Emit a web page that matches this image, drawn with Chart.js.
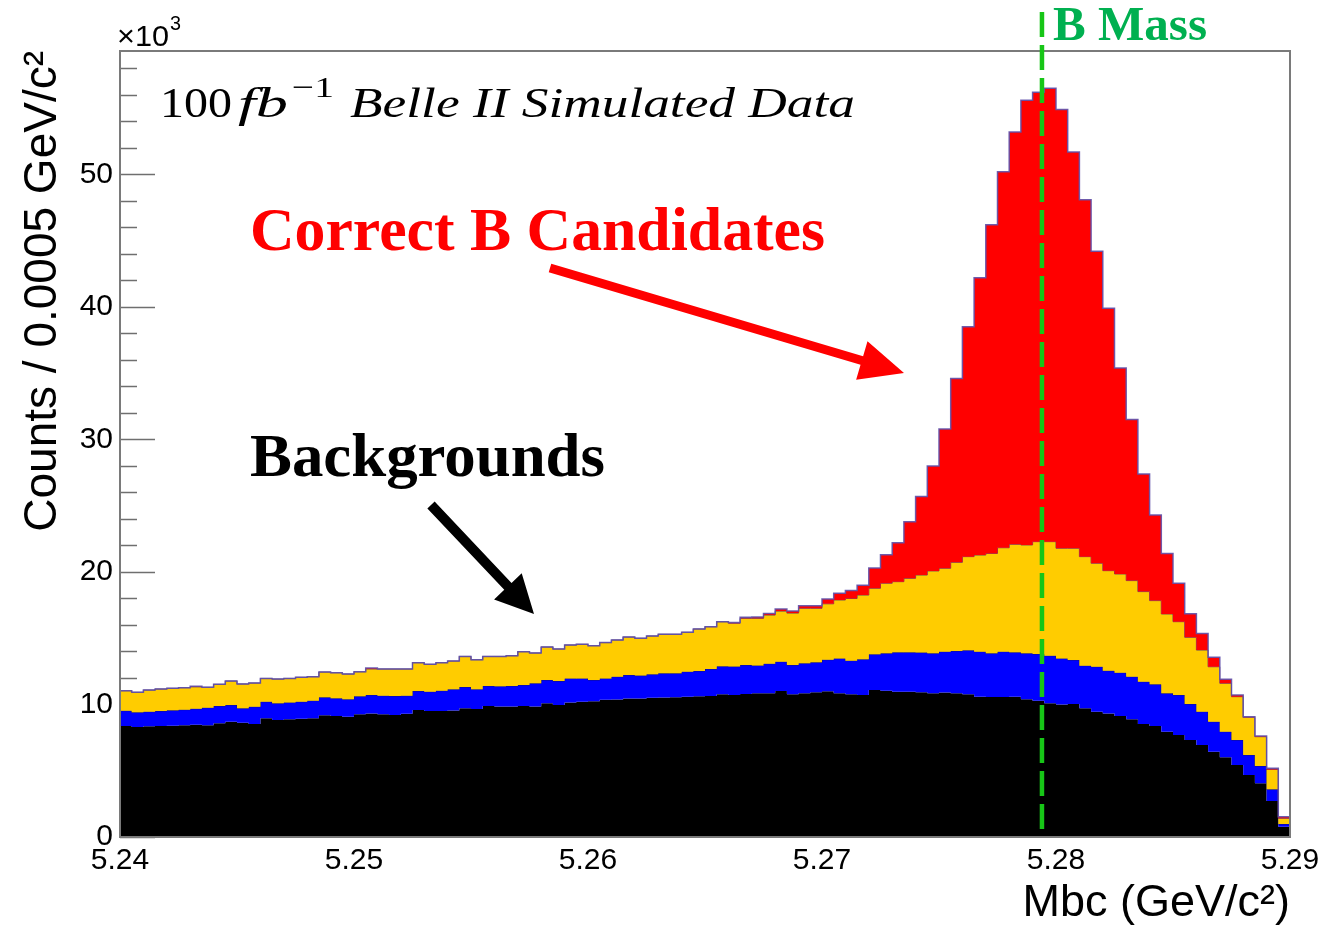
<!DOCTYPE html>
<html>
<head>
<meta charset="utf-8">
<title>Mbc stack</title>
<script src="https://cdn.jsdelivr.net/npm/chart.js@4.4.1/dist/chart.umd.min.js"></script>
<style>
  html, body { margin: 0; padding: 0; background: #fff; }
  #wrap { width: 1337px; height: 931px; }
</style>
</head>
<body>
<div id="wrap"><canvas id="graphique" width="1337" height="931"></canvas></div>
<script>
// === binning: 100 bins of 0.0005 GeV between 5.24 and 5.29 ===
const BIN_LOW = 5.24;
const BIN_WIDTH = 0.0005;
const N_BINS = 100;
const binEdges = [];
for (let i = 0; i <= N_BINS; i++) binEdges.push(+(BIN_LOW + i * BIN_WIDTH).toFixed(4));

// === stack heights (x10^3 counts), bottom layer first ===
const topBlack = [
  8.38, 8.30, 8.35, 8.38, 8.40, 8.43, 8.48, 8.43, 8.58, 8.70,
  8.63, 8.53, 8.96, 8.83, 8.88, 8.93, 8.96, 9.18, 9.13, 9.08,
  9.26, 9.33, 9.26, 9.21, 9.30, 9.58, 9.51, 9.51, 9.55, 9.71,
  9.66, 9.89, 9.84, 9.84, 9.89, 9.84, 10.09, 9.96, 10.16, 10.21,
  10.25, 10.35, 10.38, 10.45, 10.45, 10.50, 10.52, 10.55, 10.59, 10.62,
  10.65, 10.77, 10.72, 10.80, 10.84, 10.84, 11.02, 10.77, 10.84, 10.92,
  11.00, 10.84, 10.77, 10.72, 11.09, 11.04, 10.97, 10.97, 10.92, 10.84,
  10.90, 10.84, 10.77, 10.59, 10.57, 10.57, 10.59, 10.39, 10.29, 10.09,
  10.00, 10.04, 9.71, 9.46, 9.33, 9.13, 8.88, 8.53, 8.38, 7.95,
  7.70, 7.32, 6.94, 6.44, 6.02, 5.43, 4.68, 4.05, 2.72, 0.78
];
const topBlue = [
  9.53, 9.41, 9.46, 9.51, 9.56, 9.61, 9.68, 9.76, 9.89, 9.96,
  9.71, 9.83, 10.21, 10.09, 10.16, 10.21, 10.29, 10.54, 10.47, 10.39,
  10.62, 10.72, 10.66, 10.64, 10.66, 11.02, 10.97, 11.04, 11.15, 11.32,
  11.15, 11.40, 11.38, 11.40, 11.47, 11.60, 11.85, 11.77, 11.97, 11.97,
  11.85, 11.97, 12.10, 12.23, 12.18, 12.28, 12.35, 12.35, 12.48, 12.53,
  12.68, 12.88, 12.86, 12.98, 12.95, 13.08, 13.23, 12.98, 13.11, 13.18,
  13.38, 13.48, 13.31, 13.41, 13.79, 13.86, 13.94, 13.94, 13.92, 13.86,
  13.99, 14.04, 14.09, 13.99, 13.86, 13.99, 13.94, 13.86, 13.81, 13.68,
  13.48, 13.36, 12.93, 12.85, 12.55, 12.40, 12.10, 11.72, 11.52, 10.84,
  10.72, 10.04, 9.46, 8.70, 7.95, 7.32, 6.19, 5.36, 3.60, 0.98
];
const topYellow = [
  11.04, 10.92, 11.09, 11.17, 11.22, 11.27, 11.33, 11.30, 11.52, 11.77,
  11.55, 11.62, 11.97, 11.92, 11.97, 12.05, 12.10, 12.45, 12.40, 12.30,
  12.47, 12.68, 12.68, 12.68, 12.68, 13.16, 13.03, 13.16, 13.28, 13.63,
  13.38, 13.63, 13.63, 13.68, 13.99, 13.89, 14.34, 14.19, 14.49, 14.54,
  14.44, 14.67, 14.87, 15.09, 15.00, 15.17, 15.30, 15.30, 15.45, 15.70,
  15.87, 16.25, 16.13, 16.50, 16.50, 16.75, 17.05, 16.90, 17.26, 17.26,
  17.60, 17.89, 18.00, 18.26, 18.77, 19.15, 19.27, 19.52, 19.77, 20.08,
  20.28, 20.73, 21.16, 21.28, 21.40, 21.83, 22.09, 22.04, 22.29, 22.29,
  21.79, 21.79, 21.16, 20.66, 20.10, 19.85, 19.35, 18.52, 17.84, 16.83,
  16.25, 15.07, 14.11, 12.85, 11.60, 10.59, 9.03, 7.57, 5.10, 1.41
];
const topRed = [
  11.04, 10.92, 11.09, 11.17, 11.22, 11.27, 11.38, 11.30, 11.52, 11.77,
  11.55, 11.62, 11.97, 11.92, 11.97, 12.05, 12.10, 12.45, 12.40, 12.30,
  12.47, 12.76, 12.68, 12.68, 12.68, 13.16, 13.03, 13.16, 13.28, 13.63,
  13.38, 13.63, 13.63, 13.68, 13.99, 13.89, 14.34, 14.19, 14.49, 14.54,
  14.44, 14.67, 14.87, 15.09, 15.00, 15.17, 15.30, 15.30, 15.45, 15.70,
  15.87, 16.25, 16.18, 16.58, 16.60, 16.87, 17.20, 17.05, 17.46, 17.46,
  17.96, 18.40, 18.60, 19.00, 20.30, 21.30, 22.20, 23.80, 25.70, 28.00,
  30.80, 34.60, 38.50, 42.20, 46.20, 50.20, 53.20, 55.60, 56.20, 56.50,
  54.90, 51.70, 48.10, 44.20, 39.90, 35.40, 31.50, 27.40, 24.30, 21.40,
  19.15, 16.85, 15.35, 13.56, 11.90, 10.72, 9.08, 7.62, 5.18, 1.53
];

const xTicks = [5.24, 5.25, 5.26, 5.27, 5.28, 5.29];
const yTicks = [0, 10, 20, 30, 40, 50];
const Y_MAX = 59.32;
const B_MASS = 5.2794;

const SANS = "'Liberation Sans', Arial, Helvetica, sans-serif";
const SERIF = "'Liberation Serif', 'Times New Roman', serif";

// histogram -> step points (last edge repeats the last bin)
function toSteps(tops) {
  const pts = tops.map((v, i) => ({ x: binEdges[i], y: v }));
  pts.push({ x: binEdges[N_BINS], y: tops[N_BINS - 1] });
  return pts;
}

// === décor: cadre, ticks internes, ligne B, flèches, textes ===
function arrow(ctx, x0, y0, x1, y1, shaft, headL, headW, color) {
  const a = Math.atan2(y1 - y0, x1 - x0);
  const len = Math.hypot(x1 - x0, y1 - y0);
  ctx.save();
  ctx.translate(x0, y0);
  ctx.rotate(a);
  ctx.fillStyle = color;
  ctx.beginPath();
  ctx.moveTo(0, -shaft / 2);
  ctx.lineTo(len - headL, -shaft / 2);
  ctx.lineTo(len - headL, -headW / 2);
  ctx.lineTo(len, 0);
  ctx.lineTo(len - headL, headW / 2);
  ctx.lineTo(len - headL, shaft / 2);
  ctx.lineTo(0, shaft / 2);
  ctx.closePath();
  ctx.fill();
  ctx.restore();
}

function fitText(ctx, text, x, y, width, font, color) {
  ctx.save();
  ctx.font = font;
  ctx.fillStyle = color;
  ctx.textBaseline = 'alphabetic';
  const w = ctx.measureText(text).width;
  ctx.translate(x, y);
  ctx.scale(width / w, 1);
  ctx.fillText(text, 0, 0);
  ctx.restore();
}

const decor = {
  id: 'decor',
  beforeDatasetsDraw(chart) {
    const { ctx, chartArea: a, scales: { y } } = chart;
    ctx.save();
    ctx.strokeStyle = '#6f6f6f';
    ctx.lineWidth = 1.5;
    for (let v = 0; v <= 58; v += 2) {
      const py = Math.round(y.getPixelForValue(v)) + 0.5;
      const len = v % 10 === 0 ? 35 : 17;
      ctx.beginPath();
      ctx.moveTo(a.left, py);
      ctx.lineTo(a.left + len, py);
      ctx.stroke();
    }
    ctx.restore();
  },
  afterDatasetsDraw(chart) {
    const { ctx, chartArea: a, scales: { x } } = chart;
    ctx.save();
    // cadre
    ctx.strokeStyle = '#7a7a7a';
    ctx.lineWidth = 2;
    ctx.strokeRect(a.left, a.top, a.right - a.left, a.bottom - a.top);

    // ligne B mass
    const bx = x.getPixelForValue(B_MASS);
    ctx.strokeStyle = '#17c617';
    ctx.lineWidth = 4.5;
    ctx.setLineDash([25, 8]);
    ctx.beginPath();
    ctx.moveTo(bx, 12);
    ctx.lineTo(bx, a.bottom);
    ctx.stroke();
    ctx.setLineDash([]);

    // x10^3
    ctx.fillStyle = '#000';
    ctx.textBaseline = 'alphabetic';
    fitText(ctx, '\u00d710', 117, 46, 52, `30px ${SANS}`, '#000');
    fitText(ctx, '3', 170, 30, 11, `20px ${SANS}`, '#000');

    // 100 fb^-1 Belle II Simulated Data
    fitText(ctx, '100', 160, 117, 72, `42px ${SERIF}`, '#000');
    fitText(ctx, 'fb', 238, 117, 50, `italic 42px ${SERIF}`, '#000');
    fitText(ctx, '\u22121', 292, 97, 42, `30px ${SERIF}`, '#000');
    fitText(ctx, 'Belle II Simulated Data', 350, 117, 505, `italic 42px ${SERIF}`, '#000');

    // annotations
    fitText(ctx, 'Correct B Candidates', 250, 250, 575, `bold 62px ${SERIF}`, '#ff0000');
    fitText(ctx, 'Backgrounds', 250, 476, 355, `bold 62px ${SERIF}`, '#000');
    fitText(ctx, 'B Mass', 1053, 40, 154, `bold 48px ${SERIF}`, '#00b050');

    arrow(ctx, 550, 268, 904, 373, 9, 44, 40, '#ff0000');
    arrow(ctx, 431, 505, 534, 614, 10, 38, 38, '#000');
    ctx.restore();
  }
};

const common = { stepped: 'before', pointRadius: 0, tension: 0 };

new Chart(document.getElementById('graphique'), {
  type: 'line',
  data: {
    datasets: [
      { ...common, label: 'bkg 1', data: toSteps(topBlack), backgroundColor: '#000000',
        borderColor: '#000000', borderWidth: 0, fill: 'origin', order: 3 },
      { ...common, label: 'bkg 2', data: toSteps(topBlue), backgroundColor: '#0000ff',
        borderColor: 'rgba(20,20,90,0.8)', borderWidth: 1, fill: '-1', order: 2 },
      { ...common, label: 'bkg 3', data: toSteps(topYellow), backgroundColor: '#ffcc00',
        borderColor: 'rgba(90,50,100,0.85)', borderWidth: 1, fill: '-1', order: 1 },
      { ...common, label: 'signal', data: toSteps(topRed), backgroundColor: '#ff0000',
        borderColor: 'rgba(95,80,170,0.9)', borderWidth: 1.5, fill: '-1', order: 0 }
    ]
  },
  options: {
    responsive: false,
    animation: false,
    layout: { padding: { top: 51, right: 47, left: 0, bottom: 0 } },
    plugins: { legend: { display: false }, tooltip: { enabled: false } },
    scales: {
      x: {
        type: 'linear', min: 5.24, max: 5.29,
        grid: { display: false, drawTicks: false },
        border: { display: false },
        afterBuildTicks: s => { s.ticks = xTicks.map(v => ({ value: v })); },
        afterFit: s => { s.height = 94; },
        ticks: { callback: v => v.toFixed(2), font: { family: SANS, size: 30 }, color: '#000',
                 padding: 6, maxRotation: 0, autoSkip: false },
        title: { display: true, text: 'Mbc (GeV/c\u00b2)', align: 'end', color: '#000',
                 font: { family: SANS, size: 45 }, padding: 0 }
      },
      y: {
        min: 0, max: Y_MAX,
        grid: { display: false, drawTicks: false },
        border: { display: false },
        afterBuildTicks: s => { s.ticks = yTicks.map(v => ({ value: v })); },
        afterFit: s => { s.width = 120; },
        ticks: { font: { family: SANS, size: 30 }, color: '#000', padding: 7 },
        title: { display: true, text: 'Counts / 0.0005 GeV/c\u00b2', align: 'end', color: '#000',
                 font: { family: SANS, size: 46 }, padding: { top: 16, bottom: 0 } }
      }
    }
  },
  plugins: [decor]
});
</script>
</body>
</html>
